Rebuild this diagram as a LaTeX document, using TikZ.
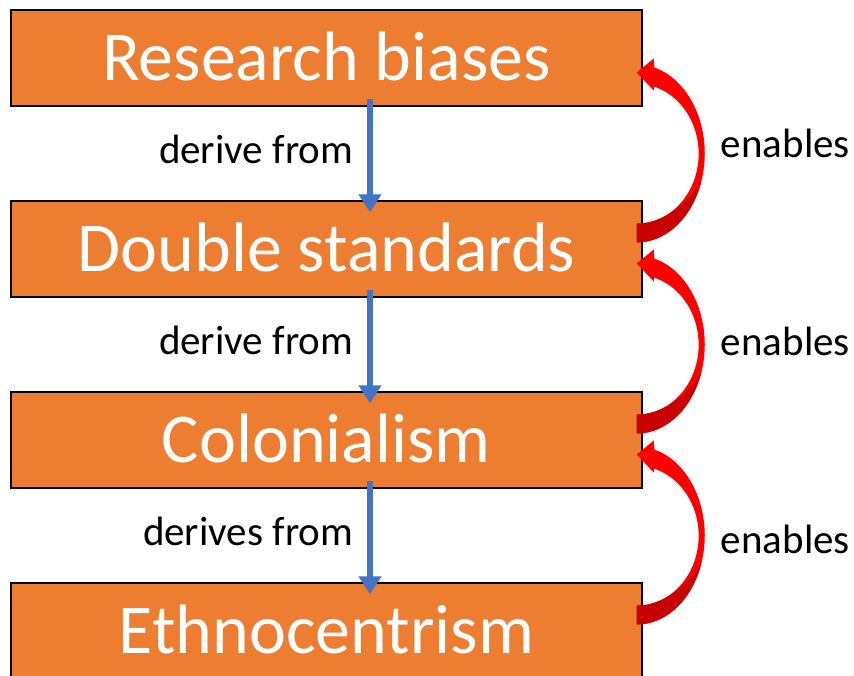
\documentclass[tikz,border=0pt]{standalone}
\usepackage{fontspec}
\setmainfont{Carlito}
\usetikzlibrary{arrows.meta,positioning,calc}

\definecolor{boxorange}{RGB}{237,125,49}
\definecolor{deriveblue}{RGB}{68,114,196}
\definecolor{enablered}{RGB}{255,0,0}
\definecolor{enabledark}{RGB}{200,0,0}

\begin{document}
\begin{tikzpicture}[x=1pt,y=-1pt,node distance=191pt,
    box/.style={draw=black,line width=1.5pt,fill=boxorange,text=white,
      minimum width=631pt,minimum height=96pt,inner sep=0pt,
      font=\fontsize{70}{84}\selectfont,text height=45pt,text depth=0pt},
    derive/.style={deriveblue,line width=6pt,-{Triangle[width=22pt,length=18pt]}},
    lbl/.style={text=black,font=\fontsize{41}{49}\selectfont,inner sep=0pt}]

  \useasboundingbox (0,0) rectangle (854,675);

  \node[box] (rb) at (326.5,58) {Research biases};
  \node[box] (ds) [below of=rb] {Double standards};
  \node[box] (co) [below of=ds] {Colonialism};
  \node[box] (et) [below of=co] {Ethnocentrism};

  % derive from
  \draw[derive] ([xshift=43.5pt,yshift=8pt]rb.south) -- node[lbl,pos=0.45,left=14pt] {derive from} ([xshift=43.5pt,yshift=-12pt]ds.north);
  \draw[derive] ([xshift=43.5pt,yshift=8pt]ds.south) -- node[lbl,pos=0.45,left=14pt] {derive from} ([xshift=43.5pt,yshift=-12pt]co.north);
  \draw[derive] ([xshift=43.5pt,yshift=8pt]co.south) -- node[lbl,pos=0.45,left=14pt] {derives from} ([xshift=43.5pt,yshift=-12pt]et.north);

  % enables
  \foreach \up/\low/\dy in {rb/ds/-10,ds/co/-3,co/et/4}{
    \begin{scope}[shift={($(\up.east)!0.5!(\low.east)+(-6,0)$)}]
      \fill[enablered] (0,89) arc[start angle=90,end angle=-75,x radius=68,y radius=89]
        -- (17,-95) -- (0,-81) -- (17,-63) -- (17,-67)
        arc[start angle=-74,end angle=90,x radius=62,y radius=70] -- cycle;
      \fill[enabledark] (0,89) arc[start angle=90,end angle=18,x radius=68,y radius=89]
        .. controls (50,52) and (25,70) .. (0,70) -- cycle;
      \node[lbl,anchor=west] (en\up) at (84,\dy) {enables};
    \end{scope}
  }

\end{tikzpicture}
\end{document}
